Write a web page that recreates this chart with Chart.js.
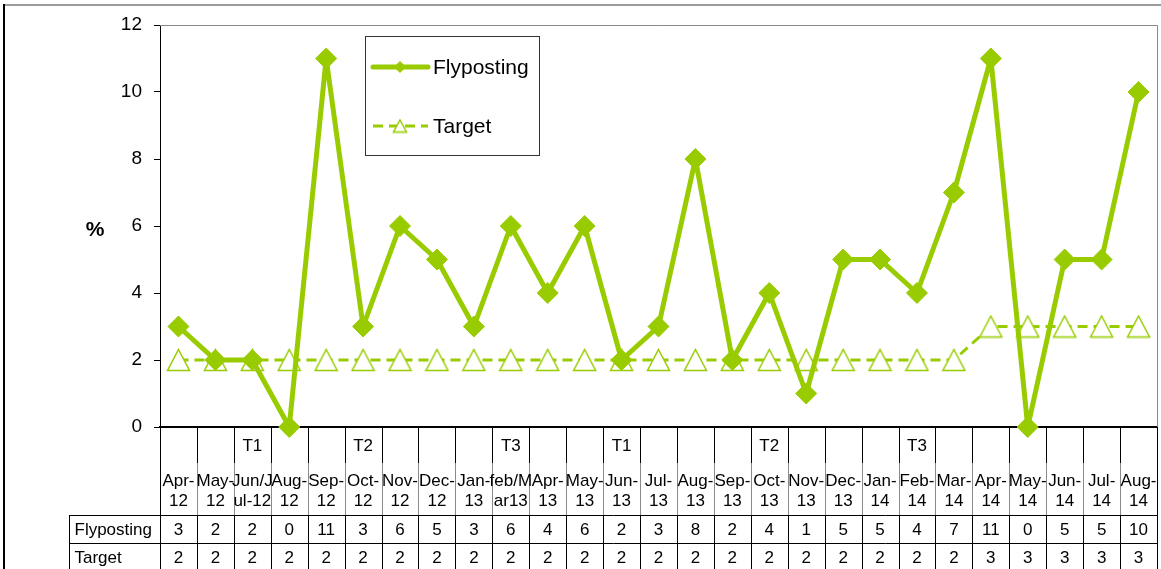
<!DOCTYPE html>
<html>
<head>
<meta charset="utf-8">
<title>Flyposting</title>
<script src="https://cdn.jsdelivr.net/npm/chart.js@4.4.1/dist/chart.umd.min.js"></script>
<style>
  html, body { margin: 0; padding: 0; background: #fff; overflow: hidden; }
  #wrap { width: 1161px; height: 569px; position: relative; }
  canvas { display: block; }
</style>
</head>
<body>
<div id="wrap"><canvas id="myChart"></canvas></div>
<script>
const months = [
    ['Apr-', '12'], ['May-', '12'], ['Jun/J', 'ul-12'], ['Aug-', '12'], ['Sep-', '12'],
    ['Oct-', '12'], ['Nov-', '12'], ['Dec-', '12'], ['Jan-', '13'], ['feb/M', 'ar13'],
    ['Apr-', '13'], ['May-', '13'], ['Jun-', '13'], ['Jul-', '13'], ['Aug-', '13'],
    ['Sep-', '13'], ['Oct-', '13'], ['Nov-', '13'], ['Dec-', '13'], ['Jan-', '14'],
    ['Feb-', '14'], ['Mar-', '14'], ['Apr-', '14'], ['May-', '14'], ['Jun-', '14'],
    ['Jul-', '14'], ['Aug-', '14']
];
const terms = ['', '', 'T1', '', '', 'T2', '', '', '', 'T3', '', '', 'T1', '', '', '', 'T2', '', '', '', 'T3', '', '', '', '', '', ''];
const flyposting = [3, 2, 2, 0, 11, 3, 6, 5, 3, 6, 4, 6, 2, 3, 8, 2, 4, 1, 5, 5, 4, 7, 11, 0, 5, 5, 10];
const target = [2, 2, 2, 2, 2, 2, 2, 2, 2, 2, 2, 2, 2, 2, 2, 2, 2, 2, 2, 2, 2, 2, 3, 3, 3, 3, 3];
const seriesNames = ['Flyposting', 'Target'];
const yMin = 0, yMax = 12, yStep = 2;

const green = '#99cc00';
const fontFamily = '"Liberation Sans", Arial, sans-serif';

// open triangle marker, centred on its box like the Excel one
function triangleMarker(w, h, color) {
    let c = document.createElement('canvas');
    c.width = w + 3;
    c.height = h + 3;
    let g = c.getContext('2d');
    g.beginPath();
    g.moveTo(c.width / 2, 1.5);
    g.lineTo(c.width - 1.5, c.height - 1.5);
    g.lineTo(1.5, c.height - 1.5);
    g.closePath();
    g.fillStyle = '#fff';
    g.fill();
    g.lineWidth = 1.5;
    g.strokeStyle = color;
    g.stroke();
    return c;
}

// outer frame, plot frame, data table under the axis, legend and the "%" label
const extras = {
    id: 'extras',
    beforeDraw(chart) {
        let ctx = chart.ctx;
        ctx.save();
        ctx.fillStyle = '#fff';
        ctx.fillRect(0, 0, chart.width, chart.height);
        ctx.strokeStyle = '#9a9a9a';
        ctx.lineWidth = 2;
        ctx.beginPath();
        ctx.moveTo(3, 5);
        ctx.lineTo(chart.width, 5);
        ctx.stroke();
        ctx.strokeStyle = '#000';
        ctx.beginPath();
        ctx.moveTo(4, 4);
        ctx.lineTo(4, chart.height);
        ctx.stroke();
        ctx.restore();
    },
    afterDraw(chart) {
        let ctx = chart.ctx;
        let area = chart.chartArea;
        let x = chart.scales.x;
        let half = (x.getPixelForValue(1) - x.getPixelForValue(0)) / 2;
        let headTop = x.top;
        let rowTop = x.bottom;
        let rowH = 28;
        let labelLeft = 69.5;
        let right = Math.round(area.right) + 0.5;

        ctx.save();
        // plot frame top/right
        ctx.strokeStyle = '#888';
        ctx.lineWidth = 1;
        ctx.beginPath();
        ctx.moveTo(area.left, Math.round(area.top) + 0.5);
        ctx.lineTo(right, Math.round(area.top) + 0.5);
        ctx.lineTo(right, area.bottom);
        ctx.stroke();

        // header dividers
        for (let i = 0; i <= months.length; i++) {
            let px = Math.round(x.getPixelForValue(i) - half) + 0.5;
            ctx.strokeStyle = '#000';
            ctx.beginPath();
            ctx.moveTo(px, headTop);
            ctx.lineTo(px, headTop + 36);
            ctx.stroke();
            ctx.strokeStyle = (i === 0 || i === months.length) ? '#000' : '#8a8a8a';
            ctx.beginPath();
            ctx.moveTo(px, headTop + 36);
            ctx.lineTo(px, rowTop);
            ctx.stroke();
            ctx.strokeStyle = '#000';
            ctx.beginPath();
            ctx.moveTo(px, rowTop);
            ctx.lineTo(px, chart.height);
            ctx.stroke();
        }
        // table rows
        ctx.strokeStyle = '#000';
        ctx.beginPath();
        for (let r = 0; r <= 2; r++) {
            let py = Math.round(rowTop + r * rowH) + 0.5;
            ctx.moveTo(labelLeft, py);
            ctx.lineTo(right, py);
        }
        ctx.moveTo(labelLeft, rowTop);
        ctx.lineTo(labelLeft, chart.height);
        ctx.stroke();

        ctx.fillStyle = '#000';
        ctx.font = '17px ' + fontFamily;
        ctx.textBaseline = 'middle';
        ctx.textAlign = 'center';
        // term row and month labels
        x.ticks.forEach((t, i) => {
            let cx = x.getPixelForValue(i);
            if (terms[i]) ctx.fillText(terms[i], cx, headTop + 19);
            months[i].forEach((line, k) => {
                ctx.fillText(line, cx, headTop + 54 + k * 20);
            });
        });
        // data rows
        let rows = [flyposting, target];
        for (let r = 0; r < rows.length; r++) {
            let cy = rowTop + r * rowH + rowH / 2 + 1;
            ctx.textAlign = 'left';
            ctx.fillText(seriesNames[r], labelLeft + 5, cy);
            ctx.textAlign = 'center';
            rows[r].forEach((v, i) => {
                ctx.fillText(String(v), x.getPixelForValue(i), cy);
            });
        }

        // "%" axis label
        ctx.font = 'bold 21px ' + fontFamily;
        ctx.fillText('%', 95, 230);

        // legend
        let lx = 365.5, ly = 36.5, lw = 174, lh = 119;
        ctx.fillStyle = '#fff';
        ctx.fillRect(lx, ly, lw, lh);
        ctx.strokeStyle = '#333';
        ctx.lineWidth = 1;
        ctx.strokeRect(lx, ly, lw, lh);
        let rowsY = [67, 126];
        chart.data.datasets.forEach((ds, k) => {
            let cy = rowsY[k];
            ctx.save();
            ctx.strokeStyle = ds.borderColor;
            ctx.lineWidth = ds.borderWidth;
            ctx.lineCap = k === 0 ? 'round' : 'butt';
            ctx.setLineDash(ds.borderDash || []);
            ctx.beginPath();
            ctx.moveTo(373, cy);
            ctx.lineTo(428, cy);
            ctx.stroke();
            ctx.setLineDash([]);
            if (k === 0) {
                let r = 6;
                ctx.beginPath();
                ctx.moveTo(400 - r, cy);
                ctx.lineTo(400, cy - r);
                ctx.lineTo(400 + r, cy);
                ctx.lineTo(400, cy + r);
                ctx.closePath();
                ctx.fillStyle = green;
                ctx.fill();
            } else {
                ctx.drawImage(triangleMarker(13, 12, green), 400 - 8, cy - 7.5);
            }
            ctx.restore();
            ctx.fillStyle = '#000';
            ctx.font = '21px ' + fontFamily;
            ctx.textAlign = 'left';
            ctx.textBaseline = 'middle';
            ctx.fillText(ds.label, 433, cy + 1);
        });
        ctx.restore();
    }
};

function chart() {
    let ctx = document.getElementById('myChart').getContext('2d');
    let tri = triangleMarker(22, 21, green);
    new Chart(ctx, {
        type: 'line',
        data: {
            labels: months.map((m) => m.join('')),
            datasets: [{
                label: seriesNames[0],
                data: flyposting,
                borderColor: green,
                backgroundColor: green,
                borderWidth: 5,
                borderJoinStyle: 'round',
                pointStyle: 'rectRot',
                pointRadius: 10.5,
                pointHoverRadius: 10.5,
                pointBackgroundColor: green,
                pointBorderColor: green,
                pointBorderWidth: 1,
                tension: 0,
                clip: false,
            }, {
                label: seriesNames[1],
                data: target,
                borderColor: green,
                backgroundColor: '#fff',
                borderWidth: 3,
                borderDash: [10, 6],
                pointStyle: tri,
                pointRadius: 11,
                pointHoverRadius: 11,
                tension: 0,
                clip: false,
            }]
        },
        options: {
            responsive: true,
            maintainAspectRatio: false,
            animation: false,
            events: [],
            layout: {
                autoPadding: false,
                padding: { left: 60, right: 4, top: 25, bottom: 54 }
            },
            plugins: {
                legend: { display: false },
                tooltip: { enabled: false }
            },
            scales: {
                x: {
                    type: 'category',
                    offset: true,
                    grid: { display: false, drawTicks: false },
                    border: { display: true, color: '#000', width: 2 },
                    ticks: { display: false, autoSkip: false },
                    afterFit: (scale) => { scale.height = 88; }
                },
                y: {
                    min: yMin,
                    max: yMax,
                    grid: {
                        drawOnChartArea: false,
                        drawTicks: true,
                        tickLength: 6,
                        color: '#000'
                    },
                    border: { display: true, color: '#000', width: 1 },
                    ticks: {
                        stepSize: yStep,
                        color: '#000',
                        padding: 12,
                        font: { family: fontFamily, size: 19 }
                    },
                    afterFit: (scale) => { scale.width = 100; }
                }
            }
        },
        plugins: [extras]
    });
}

window.addEventListener('DOMContentLoaded', (event) => {
    chart();
});
</script>
</body>
</html>
